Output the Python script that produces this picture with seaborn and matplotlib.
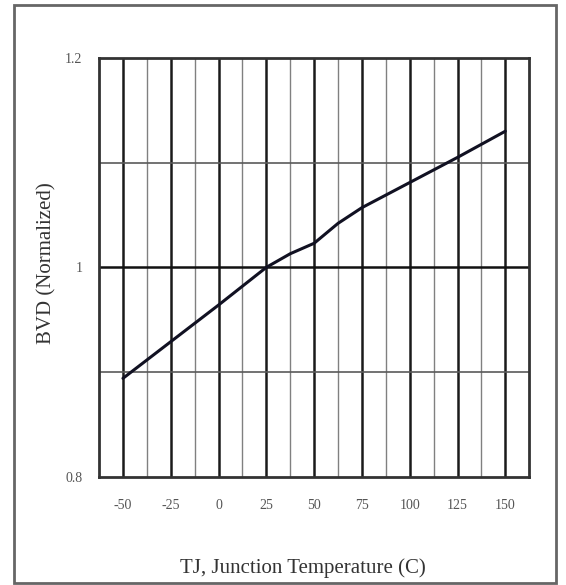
import numpy as np
import pandas as pd
import seaborn as sns
import matplotlib.pyplot as plt
from matplotlib.patches import Rectangle

# values
temps = [-50, -25, 0, 25, 37.5, 50, 62.5, 75, 100, 125, 150]
bvd = [0.894, 0.929, 0.964, 1.000, 1.013, 1.023, 1.042, 1.057, 1.081, 1.105, 1.130]
x_ticks = [-50, -25, 0, 25, 50, 75, 100, 125, 150]
y_ticks = [0.8, 1.0, 1.2]
y_tick_labels = ["0.8", "1", "1.2"]

sns.set_style("white")
plt.rcParams['font.family'] = ['Liberation Serif', 'DejaVu Serif']

df = pd.DataFrame({"temp": temps, "bvd": bvd})

fig = plt.figure(figsize=(5.66, 5.85), dpi=100)
ax = fig.add_axes([0.175, 0.185, 0.76, 0.716])

# grid: thin minor verticals, heavy major verticals
for xm in np.arange(-37.5, 150, 25):
    ax.axvline(xm, color="#808080", lw=1.0, zorder=1)
for xm in x_ticks:
    ax.axvline(xm, color="#1a1a1a", lw=1.8, zorder=1)
for ym in [0.9, 1.1]:
    ax.axhline(ym, color="#5a5a5a", lw=1.2, zorder=1)
ax.axhline(1.0, color="#111111", lw=1.8, zorder=1)

sns.lineplot(data=df, x="temp", y="bvd", ax=ax, color="#111122", lw=2.2, zorder=3)

ax.set_xlim(-62.5, 162.5)
ax.set_ylim(0.8, 1.2)
ax.set_xticks(x_ticks)
ax.set_xticklabels([str(t) for t in x_ticks])
ax.set_yticks(y_ticks)
ax.set_yticklabels(y_tick_labels)
ax.tick_params(axis="both", length=0, labelsize=10, colors="#555555")
ax.tick_params(axis="x", pad=16)
ax.tick_params(axis="y", pad=12)
ax.set_xlabel("")
ax.set_ylabel("")
for sp in ax.spines.values():
    sp.set_color("#333333")
    sp.set_linewidth(2)

fig.text(0.535, 0.028, "TJ, Junction Temperature (C)", ha="center", va="center",
         fontsize=15, color="#333333")
fig.text(0.082, 0.55, "BVD (Normalized)", ha="center", va="center",
         rotation=90, fontsize=15, color="#333333")

# outer frame around the whole chart
fig.patches.append(Rectangle((0.025, 0.004), 0.957, 0.988, transform=fig.transFigure,
                             fill=False, edgecolor="#666666", lw=2))

fig.savefig("out.png", dpi=100)
